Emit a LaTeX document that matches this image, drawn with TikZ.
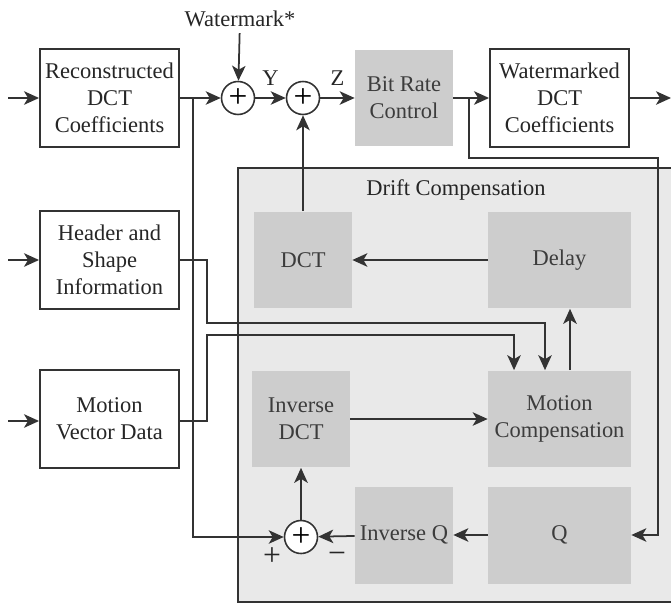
\documentclass[tikz,border=0pt]{standalone}
\usepackage{fontspec}
\setmainfont{Liberation Serif}
\usetikzlibrary{arrows.meta}

\definecolor{lineC}{HTML}{333333}
\definecolor{textC}{HTML}{3C3C3C}
\definecolor{blockC}{HTML}{CDCDCD}
\definecolor{driftC}{HTML}{E9E9E9}

\begin{document}
\begin{tikzpicture}
        [   x=0.02cm, y=-0.02cm,
            font=\fontsize{12.8}{15.4}\selectfont,
            whiteBlock/.style=
            {rectangle, draw=lineC, fill=white, line width=1.1pt,
            minimum width=2.78cm, minimum height=1.96cm,
            align=center, inner sep=0pt, text=black!85},
            grayBlock/.style=
            {rectangle, fill=blockC, minimum width=1.96cm,
            minimum height=1.94cm, align=center, inner sep=0pt, text=textC},
            wideBlock/.style=
            {grayBlock, minimum width=2.86cm},
            sumNode/.style=
            {circle, draw=lineC, fill=white, line width=0.9pt,
            minimum size=0.66cm, inner sep=0pt, font=\fontsize{19}{19}\selectfont},
            signNode/.style=
            {text=black!85, font=\fontsize{18}{18}\selectfont},
            arr/.style=
            {-{Stealth[length=3mm,width=2.7mm,inset=0.8mm]}, draw=lineC, line width=1pt},
            wire/.style=
            {draw=lineC, line width=1pt}
        ]
            \useasboundingbox (0,0) rectangle (671,604);
            \draw[wire, fill=driftC] (238,168) rectangle (700,602);
            \node[text=black!85] (driftTitle) at (456,190) {Drift Compensation};

            \node[whiteBlock] (rec) at (109.5,98) {Reconstructed\\DCT\\Coefficients};
            \node[whiteBlock] (hdr) at (109.5,260) {Header and\\Shape\\Information};
            \node[whiteBlock] (mv) at (109.5,419) {Motion\\Vector Data};
            \node[whiteBlock] (wm) at (559.5,98) {Watermarked\\DCT\\Coefficients};
            \node[grayBlock] (brc) at (404,98) {Bit Rate\\Control};

            \node[grayBlock] (dct) at (303,260) {DCT};
            \node[wideBlock] (delay) at (559.5,260) {Delay};
            \node[grayBlock] (idct) at (301,419) {Inverse\\DCT};
            \node[wideBlock] (mc) at (559.5,419) {Motion\\Compensation};
            \node[grayBlock] (iq) at (404,535) {Inverse Q};
            \node[wideBlock] (q) at (559.5,535) {Q};

            \node[sumNode] (sum1) at (238,98) {+};
            \node[sumNode] (sum2) at (303,98) {+};
            \node[sumNode] (sum3) at (301,537) {+};
            \node[text=black!85] (wmk) at (240,19) {Watermark*};
            \node[signNode] (plus) at (272,557) {+};
            \node[signNode] (minus) at (337,558) {−};

            \coordinate (in1) at (8,98);
            \coordinate (in2) at (8,260);
            \coordinate (in3) at (8,421);
            \coordinate (out) at (671,98);
            \coordinate (split) at (193,98);
            \coordinate (tap) at (469,98);
            \coordinate (fb) at (658,158);
            \coordinate (hdrBend) at (207,323);
            \coordinate (mvBend) at (207,335);

            \draw[arr] (in1) -- (rec);
            \draw[arr] (in2) -- (hdr);
            \draw[arr] (in3) -- (mv.west |- in3);
            \draw[arr] (rec) -- (sum1);
            \draw[arr] (wmk) -- (sum1);
            \draw[arr] (sum1) -- node[above=3pt, text=black!85] {Y} (sum2);
            \draw[arr] (sum2) -- node[above=3pt, text=black!85] {Z} (brc);
            \draw[arr] (brc) -- (wm);
            \draw[arr] (wm) -- (out);
            \draw[arr] (split) |- (sum3);
            \draw[arr] (tap) |- (fb) |- (q);
            \draw[arr] (delay) -- (dct);
            \draw[arr] (dct) -- (sum2);
            \draw[arr] (hdr) -| (hdrBend) -| ([xshift=-0.29cm]mc.north);
            \draw[arr] (mv.east |- in3) -| (mvBend) -| ([xshift=-0.91cm]mc.north);
            \draw[arr] (idct) -- (mc);
            \draw[arr] ([xshift=0.21cm]mc.north) -- ([xshift=0.21cm]delay.south);
            \draw[arr] (q) -- (iq);
            \draw[arr] (iq) -- (sum3);
            \draw[arr] (sum3) -- (idct);
    \end{tikzpicture}
\end{document}
